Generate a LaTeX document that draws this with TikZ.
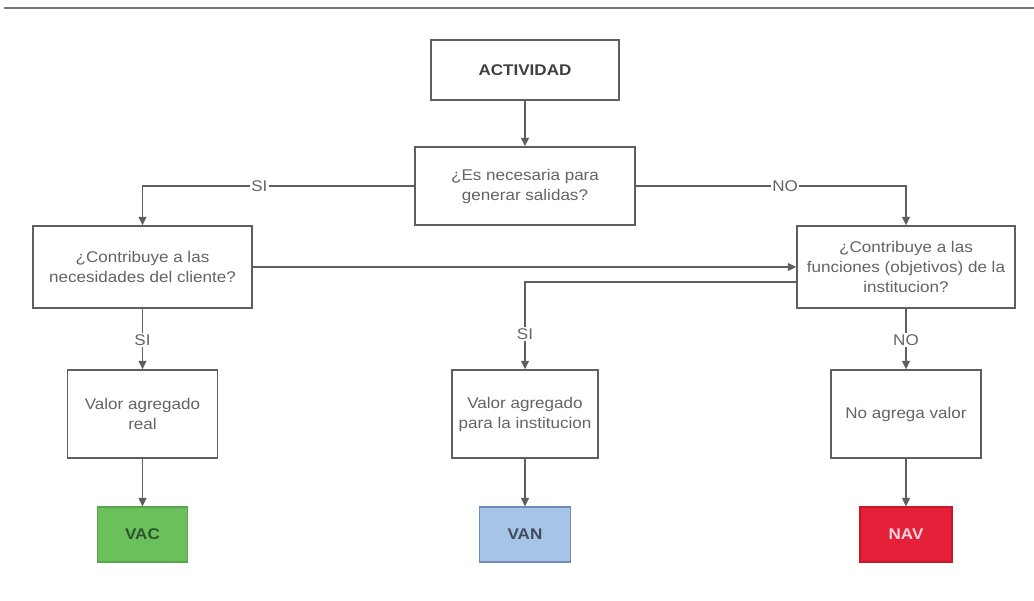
\documentclass[tikz,border=0pt]{standalone}
\usepackage{fontspec}
\setmainfont{Liberation Sans}[FakeStretch=1.1]
\usetikzlibrary{arrows.meta}

\definecolor{boxline}{RGB}{95,95,95}
\definecolor{txt}{RGB}{100,100,100}
\definecolor{rule}{RGB}{120,120,120}
\definecolor{vacfill}{RGB}{108,192,92}
\definecolor{vacline}{RGB}{88,165,78}
\definecolor{vactext}{RGB}{45,85,45}
\definecolor{vanfill}{RGB}{166,196,230}
\definecolor{vanline}{RGB}{110,140,185}
\definecolor{vantext}{RGB}{65,75,95}
\definecolor{navfill}{RGB}{228,32,56}
\definecolor{navline}{RGB}{200,22,42}
\definecolor{navtext}{RGB}{250,215,220}

\begin{document}
\begin{tikzpicture}[x=1pt,y=-1pt,
  box/.style={draw=boxline, line width=1.4pt, fill=white, text=txt, align=center,
    inner sep=0pt, font=\fontsize{15.5}{20}\selectfont},
  tag/.style={line width=1.2pt, align=center, inner sep=0pt,
    minimum height=55pt, font=\fontsize{15.5}{20}\selectfont\bfseries},
  flow/.style={draw=boxline, line width=1.2pt, -{Triangle[length=8.5pt,width=8pt]}},
  lbl/.style={fill=white, text=txt, inner sep=1.5pt, font=\fontsize{15.5}{20}\selectfont}]
\useasboundingbox (0,0) rectangle (1034,601);

% header rule
\draw[rule, line width=2pt] (4,8) -- (1034,8);

% decision boxes
\node[box, minimum width=188pt, minimum height=60pt, text=black!75] (act) at (525,70) {\textbf{ACTIVIDAD}};
\node[box, minimum width=220pt, minimum height=78pt] (q1) at (525,186) {¿Es necesaria para\\generar salidas?};
\node[box, minimum width=219pt, minimum height=82pt] (cl) at (142.5,267) {¿Contribuye a las\\necesidades del cliente?};
\node[box, minimum width=218pt, minimum height=82pt] (fn) at (906,267) {¿Contribuye a las\\funciones (objetivos) de la\\institucion?};

% outcome boxes
\node[box, minimum width=150pt, minimum height=88pt] (r1) at (142.5,414) {Valor agregado\\real};
\node[box, minimum width=146pt, minimum height=88pt] (r2) at (525,414) {Valor agregado\\para la institucion};
\node[box, minimum width=150pt, minimum height=88pt] (r3) at (906,414) {No agrega valor};

% classification tags
\node[tag, draw=vacline, fill=vacfill, text=vactext, minimum width=90pt] (vac) at (142.5,534.5) {VAC};
\node[tag, draw=vanline, fill=vanfill, text=vantext, minimum width=91pt] (van) at (525,534.5) {VAN};
\node[tag, draw=navline, fill=navfill, text=navtext, minimum width=92pt] (nav) at (906,534.5) {NAV};

% connectors
\draw[flow] (act) -- (q1);
\draw[flow] (q1.west) -- node[lbl, pos=0.57] {SI} (q1.west -| cl.north) -- (cl.north);
\draw[flow] (q1.east) -- node[lbl, pos=0.553] {NO} (q1.east -| fn.north) -- (fn.north);
\draw[flow] (cl.east) -- (fn.west);
\draw[flow] ([yshift=-15pt]fn.west) -- ([yshift=-15pt]fn.west -| r2.north)
  -- node[lbl, pos=0.6] {SI} (r2.north);
\draw[flow] (cl.south) -- node[lbl, pos=0.52] {SI} (r1.north);
\draw[flow] (fn.south) -- node[lbl, pos=0.52] {NO} (r3.north);
\draw[flow] (r1) -- (vac);
\draw[flow] (r2) -- (van);
\draw[flow] (r3) -- (nav);
\end{tikzpicture}
\end{document}
